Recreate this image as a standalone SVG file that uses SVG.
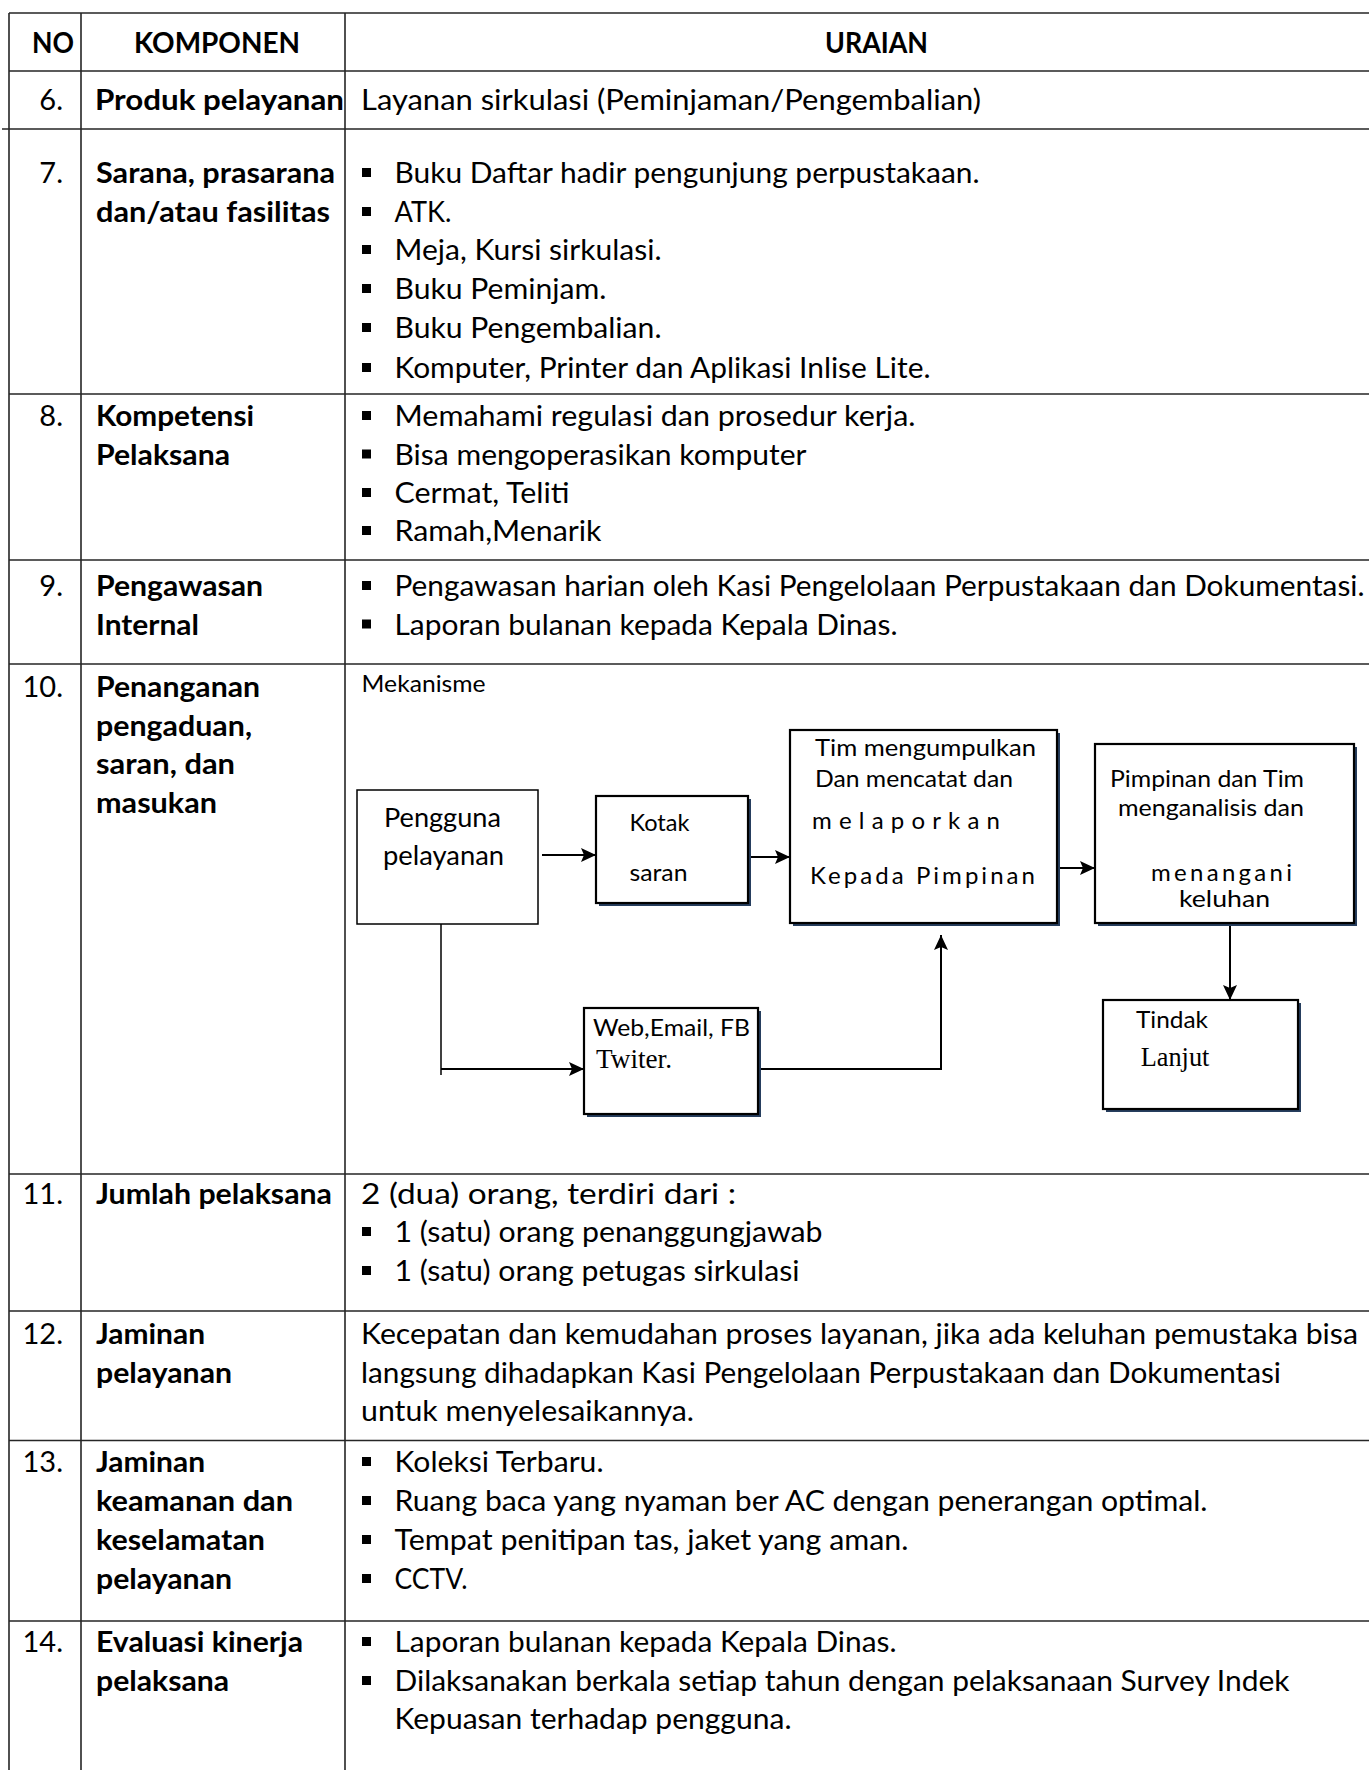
<svg xmlns="http://www.w3.org/2000/svg" width="1369" height="1770" viewBox="0 0 1369 1770">
<style>
text{font-family:Lato,"Open Sans","Liberation Sans",sans-serif;fill:#000}
.t{font-size:29px}
.b{font-size:29px;font-weight:bold}
.n{font-size:29px;text-anchor:end}
.d{font-size:24px}
.p{font-size:26.5px}
.s{font-family:"Liberation Serif","Times New Roman",serif;font-size:26.67px}
.ln{stroke:#262626;stroke-width:1.6;fill:none}
.box{fill:#fff;stroke:#000;stroke-width:2.2}
.sh{fill:#263e5e}
.c{stroke:#000;stroke-width:2;fill:none}
.bu{fill:#000}
</style>
<defs>
<marker id="ah" markerUnits="userSpaceOnUse" markerWidth="16" markerHeight="16" refX="15" refY="7" orient="auto">
<path d="M0,0 L15,7 L0,14 L3,7 z" fill="#000"/>
</marker>
</defs>
<rect width="1369" height="1770" fill="#fff"/>

<g id="table-lines">
<path class="ln" d="M9,13 H1369 M9,71 H1369 M2,129 H1369 M9,394 H1369 M9,560 H1369 M9,664 H1369 M9,1174 H1369 M9,1311 H1369 M9,1440.5 H1369 M9,1621 H1369"/>
<path class="ln" d="M9,13 V1770 M81,13 V1770 M345,13 V1770"/>
</g>

<g id="header">
<text class="b" x="32" y="53" textLength="42" lengthAdjust="spacingAndGlyphs">NO</text>
<text class="b" x="134" y="53" textLength="166" lengthAdjust="spacingAndGlyphs">KOMPONEN</text>
<text class="b" x="825" y="53" textLength="103" lengthAdjust="spacingAndGlyphs">URAIAN</text>
</g>

<g id="row6">
<text class="n" x="63" y="110">6.</text>
<text class="b" x="95" y="110" textLength="249" lengthAdjust="spacingAndGlyphs">Produk pelayanan</text>
<text class="t" x="361" y="110" textLength="620" lengthAdjust="spacingAndGlyphs">Layanan sirkulasi (Peminjaman/Pengembalian)</text>
</g>

<g id="row7">
<text class="n" x="63" y="183">7.</text>
<text class="b" x="96" y="183" textLength="239" lengthAdjust="spacingAndGlyphs">Sarana, prasarana</text>
<text class="b" x="96" y="222" textLength="234" lengthAdjust="spacingAndGlyphs">dan/atau fasilitas</text>
<rect class="bu" x="362" y="168" width="9" height="9"/>
<rect class="bu" x="362" y="207" width="9" height="9"/>
<rect class="bu" x="362" y="245" width="9" height="9"/>
<rect class="bu" x="362" y="284" width="9" height="9"/>
<rect class="bu" x="362" y="323" width="9" height="9"/>
<rect class="bu" x="362" y="363" width="9" height="9"/>
<text class="t" x="394.5" y="183" textLength="585" lengthAdjust="spacingAndGlyphs">Buku Daftar hadir pengunjung perpustakaan.</text>
<text class="t" x="394.5" y="222" textLength="57" lengthAdjust="spacingAndGlyphs">ATK.</text>
<text class="t" x="394.5" y="260" textLength="267" lengthAdjust="spacingAndGlyphs">Meja, Kursi sirkulasi.</text>
<text class="t" x="394.5" y="299" textLength="212" lengthAdjust="spacingAndGlyphs">Buku Peminjam.</text>
<text class="t" x="394.5" y="338" textLength="267" lengthAdjust="spacingAndGlyphs">Buku Pengembalian.</text>
<text class="t" x="394.5" y="378" textLength="536" lengthAdjust="spacingAndGlyphs">Komputer, Printer dan Aplikasi Inlise Lite.</text>
</g>

<g id="row8">
<text class="n" x="63" y="426">8.</text>
<text class="b" x="96" y="426" textLength="158" lengthAdjust="spacingAndGlyphs">Kompetensi</text>
<text class="b" x="96" y="464.5" textLength="134" lengthAdjust="spacingAndGlyphs">Pelaksana</text>
<rect class="bu" x="362" y="411" width="9" height="9"/>
<rect class="bu" x="362" y="449.5" width="9" height="9"/>
<rect class="bu" x="362" y="488" width="9" height="9"/>
<rect class="bu" x="362" y="526" width="9" height="9"/>
<text class="t" x="394.5" y="426" textLength="521" lengthAdjust="spacingAndGlyphs">Memahami regulasi dan prosedur kerja.</text>
<text class="t" x="394.5" y="464.5" textLength="412" lengthAdjust="spacingAndGlyphs">Bisa mengoperasikan komputer</text>
<text class="t" x="394.5" y="503" textLength="175" lengthAdjust="spacingAndGlyphs">Cermat, Teliti</text>
<text class="t" x="394.5" y="541" textLength="207" lengthAdjust="spacingAndGlyphs">Ramah,Menarik</text>
</g>

<g id="row9">
<text class="n" x="63" y="596">9.</text>
<text class="b" x="96" y="596" textLength="167" lengthAdjust="spacingAndGlyphs">Pengawasan</text>
<text class="b" x="96" y="634.5" textLength="103" lengthAdjust="spacingAndGlyphs">Internal</text>
<rect class="bu" x="362" y="581" width="9" height="9"/>
<rect class="bu" x="362" y="619.5" width="9" height="9"/>
<text class="t" x="394.5" y="596" textLength="970" lengthAdjust="spacingAndGlyphs">Pengawasan harian oleh Kasi Pengelolaan Perpustakaan dan Dokumentasi.</text>
<text class="t" x="394.5" y="634.5" textLength="503" lengthAdjust="spacingAndGlyphs">Laporan bulanan kepada Kepala Dinas.</text>
</g>

<g id="row10">
<text class="n" x="63" y="697">10.</text>
<text class="b" x="96" y="697" textLength="164" lengthAdjust="spacingAndGlyphs">Penanganan</text>
<text class="b" x="96" y="735.5" textLength="156" lengthAdjust="spacingAndGlyphs">pengaduan,</text>
<text class="b" x="96" y="774" textLength="139" lengthAdjust="spacingAndGlyphs">saran, dan</text>
<text class="b" x="96" y="812.5" textLength="121" lengthAdjust="spacingAndGlyphs">masukan</text>
<text class="d" x="361.6" y="692" textLength="124" lengthAdjust="spacingAndGlyphs">Mekanisme</text>
</g>

<g id="connectors">
<path class="c" d="M542,855 H596" marker-end="url(#ah)"/>
<path class="c" d="M751,857 H790" marker-end="url(#ah)"/>
<path class="c" d="M1059,868 H1095" marker-end="url(#ah)"/>
<path class="c" d="M1230,926 V1000" marker-end="url(#ah)"/>
<path class="c" style="stroke-width:1.5" d="M441,913 V1075"/>
<path class="c" d="M441,1069 H584" marker-end="url(#ah)"/>
<path class="c" d="M758,1069 H941 V935" marker-end="url(#ah)"/>
</g>

<g id="node-pengguna">
<rect x="357" y="790" width="181" height="134" fill="#fff" stroke="#000" stroke-width="1.5"/>
<text class="p" x="384" y="827" textLength="117" lengthAdjust="spacingAndGlyphs">Pengguna</text>
<text class="p" x="383" y="865" textLength="121" lengthAdjust="spacingAndGlyphs">pelayanan</text>
</g>

<g id="node-kotak">
<rect class="sh" x="599" y="799" width="152" height="107"/>
<rect class="box" x="596" y="796" width="152" height="107"/>
<text class="d" x="629.5" y="831" textLength="60" lengthAdjust="spacingAndGlyphs">Kotak</text>
<text class="d" x="629.5" y="881" textLength="58" lengthAdjust="spacingAndGlyphs">saran</text>
</g>

<g id="node-tim">
<rect class="sh" x="793" y="733" width="267" height="193"/>
<rect class="box" x="790" y="730" width="267" height="193"/>
<text class="d" x="815" y="756" textLength="221" lengthAdjust="spacingAndGlyphs">Tim mengumpulkan</text>
<text class="d" x="815" y="787" textLength="198" lengthAdjust="spacingAndGlyphs">Dan mencatat dan</text>
<text class="d" x="812" y="829" textLength="188" lengthAdjust="spacing">melaporkan</text>
<text class="d" x="810" y="884" textLength="225" lengthAdjust="spacing">Kepada Pimpinan</text>
</g>

<g id="node-pimpinan">
<rect class="sh" x="1098" y="747" width="259" height="179"/>
<rect class="box" x="1095" y="744" width="259" height="179"/>
<text class="d" x="1110" y="787" textLength="194" lengthAdjust="spacingAndGlyphs">Pimpinan dan Tim</text>
<text class="d" x="1118" y="816" textLength="186" lengthAdjust="spacingAndGlyphs">menganalisis dan</text>
<text class="d" x="1151" y="881" textLength="141" lengthAdjust="spacing">menangani</text>
<text class="d" x="1179" y="907" textLength="91" lengthAdjust="spacingAndGlyphs">keluhan</text>
</g>

<g id="node-tindak">
<rect class="sh" x="1106" y="1003" width="195" height="109"/>
<rect class="box" x="1103" y="1000" width="195" height="109"/>
<text class="d" x="1136" y="1028" textLength="72" lengthAdjust="spacingAndGlyphs">Tindak</text>
<text class="s" x="1140.7" y="1066" textLength="68.7" lengthAdjust="spacingAndGlyphs">Lanjut</text>
</g>

<g id="node-web">
<rect class="sh" x="587" y="1011" width="174" height="106"/>
<rect class="box" x="584" y="1008" width="174" height="106"/>
<text class="d" x="593" y="1036" textLength="157" lengthAdjust="spacingAndGlyphs">Web,Email, FB</text>
<text class="s" x="596" y="1068" textLength="76" lengthAdjust="spacingAndGlyphs">Twiter.</text>
</g>

<g id="row11">
<text class="n" x="63" y="1204">11.</text>
<text class="b" x="96" y="1204" textLength="236" lengthAdjust="spacingAndGlyphs">Jumlah pelaksana</text>
<text class="t" x="361" y="1204" textLength="375" lengthAdjust="spacingAndGlyphs">2 (dua) orang, terdiri dari :</text>
<rect class="bu" x="362" y="1227" width="9" height="9"/>
<rect class="bu" x="362" y="1266" width="9" height="9"/>
<text class="t" x="394.5" y="1242" textLength="428" lengthAdjust="spacingAndGlyphs">1 (satu) orang penanggungjawab</text>
<text class="t" x="394.5" y="1281" textLength="405" lengthAdjust="spacingAndGlyphs">1 (satu) orang petugas sirkulasi</text>
</g>

<g id="row12">
<text class="n" x="63" y="1344">12.</text>
<text class="b" x="96" y="1344" textLength="109" lengthAdjust="spacingAndGlyphs">Jaminan</text>
<text class="b" x="96" y="1382.5" textLength="136" lengthAdjust="spacingAndGlyphs">pelayanan</text>
<text class="t" x="361" y="1344" textLength="997" lengthAdjust="spacingAndGlyphs">Kecepatan dan kemudahan proses layanan, jika ada keluhan pemustaka bisa</text>
<text class="t" x="361" y="1382.5" textLength="920" lengthAdjust="spacingAndGlyphs">langsung dihadapkan Kasi Pengelolaan Perpustakaan dan Dokumentasi</text>
<text class="t" x="361" y="1421" textLength="333" lengthAdjust="spacingAndGlyphs">untuk menyelesaikannya.</text>
</g>

<g id="row13">
<text class="n" x="63" y="1472">13.</text>
<text class="b" x="96" y="1472" textLength="109" lengthAdjust="spacingAndGlyphs">Jaminan</text>
<text class="b" x="96" y="1511" textLength="197" lengthAdjust="spacingAndGlyphs">keamanan dan</text>
<text class="b" x="96" y="1550" textLength="169" lengthAdjust="spacingAndGlyphs">keselamatan</text>
<text class="b" x="96" y="1589" textLength="136" lengthAdjust="spacingAndGlyphs">pelayanan</text>
<rect class="bu" x="362" y="1457" width="9" height="9"/>
<rect class="bu" x="362" y="1496" width="9" height="9"/>
<rect class="bu" x="362" y="1535" width="9" height="9"/>
<rect class="bu" x="362" y="1574" width="9" height="9"/>
<text class="t" x="394.5" y="1472" textLength="209" lengthAdjust="spacingAndGlyphs">Koleksi Terbaru.</text>
<text class="t" x="394.5" y="1511" textLength="813" lengthAdjust="spacingAndGlyphs">Ruang baca yang nyaman ber AC dengan penerangan optimal.</text>
<text class="t" x="394.5" y="1550" textLength="514" lengthAdjust="spacingAndGlyphs">Tempat penitipan tas, jaket yang aman.</text>
<text class="t" x="394.5" y="1589" textLength="73" lengthAdjust="spacingAndGlyphs">CCTV.</text>
</g>

<g id="row14">
<text class="n" x="63" y="1652">14.</text>
<text class="b" x="96" y="1652" textLength="207" lengthAdjust="spacingAndGlyphs">Evaluasi kinerja</text>
<text class="b" x="96" y="1691" textLength="133" lengthAdjust="spacingAndGlyphs">pelaksana</text>
<rect class="bu" x="362" y="1637" width="9" height="9"/>
<rect class="bu" x="362" y="1676" width="9" height="9"/>
<text class="t" x="394.5" y="1652" textLength="502" lengthAdjust="spacingAndGlyphs">Laporan bulanan kepada Kepala Dinas.</text>
<text class="t" x="394.5" y="1691" textLength="895" lengthAdjust="spacingAndGlyphs">Dilaksanakan berkala setiap tahun dengan pelaksanaan Survey Indek</text>
<text class="t" x="394.5" y="1729" textLength="397" lengthAdjust="spacingAndGlyphs">Kepuasan terhadap pengguna.</text>
</g>
</svg>
